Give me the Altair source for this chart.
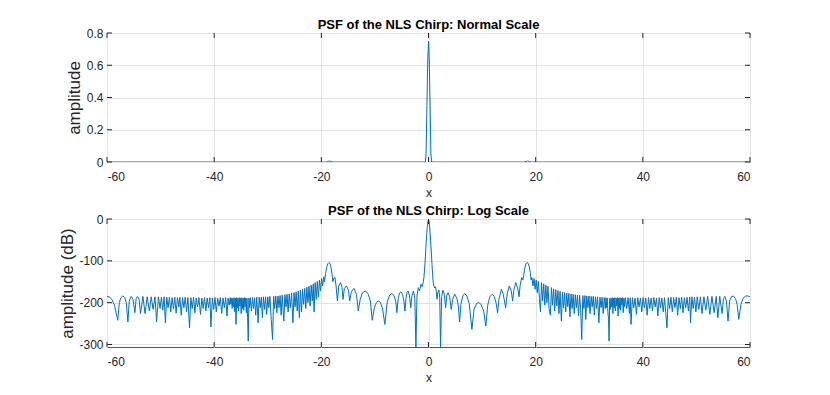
import altair as alt
import pandas as pd

# ---------------- data ----------------
x_ticks = [-60, -40, -20, 0, 20, 40, 60]
top_y_ticks = [0, 0.2, 0.4, 0.6, 0.8]
bot_y_ticks = [-300, -200, -100, 0]

top_x = [-60, -19.2, -18.8, -18.5, -18.2, -17.8, -0.6, -0.45, -0.3, -0.15, 0,
         0.15, 0.3, 0.45, 0.6, 17.8, 18.2, 18.5, 18.8, 19.2, 60]
top_amp = [0, 0, 0.003, 0.006, 0.003, 0, 0, 0.05, 0.35, 0.62, 0.75,
           0.62, 0.35, 0.05, 0, 0, 0.003, 0.006, 0.003, 0, 0]

left_db = [
    (-60, -185), (-59.6, -186), (-59.1, -192), (-58.6, -206), (-58.0, -242), (-57.7, -200), (-57.4, -188),
    (-57.05, -184), (-56.7, -188), (-56.4, -200), (-56.1, -246), (-55.85, -196), (-55.5, -185), (-55.15, -192),
    (-54.8, -224), (-54.55, -190), (-54.3, -185), (-54.0, -193), (-53.75, -226), (-53.3, -185), (-52.9, -226),
    (-52.5, -186), (-52.1, -220), (-51.75, -186), (-51.4, -216), (-51.05, -186), (-50.75, -246), (-50.4, -186),
    (-50.1, -214), (-49.85, -187), (-49.6, -218), (-49.35, -186), (-49.1, -248), (-48.85, -187), (-48.6, -212),
    (-48.35, -187), (-48.1, -222), (-47.85, -188), (-47.6, -215), (-47.35, -187), (-47.1, -225), (-46.85, -188),
    (-46.6, -210), (-46.4, -187), (-46.15, -230), (-45.9, -188), (-45.65, -212), (-45.4, -187), (-45.15, -222),
    (-44.9, -188), (-44.6, -260), (-44.35, -188), (-44.1, -214), (-43.85, -187), (-43.6, -224), (-43.35, -189),
    (-43.1, -210), (-42.85, -188), (-42.55, -228), (-42.3, -189), (-42.05, -214), (-41.8, -188), (-41.55, -220),
    (-41.3, -189), (-41.05, -212), (-40.8, -188), (-40.6, -258), (-40.35, -189), (-40.1, -216), (-39.85, -188),
    (-39.6, -222), (-39.35, -189), (-39.1, -208), (-38.85, -188), (-38.6, -226), (-38.35, -189), (-38.1, -212),
    (-37.85, -188), (-37.6, -232), (-37.4, -189), (-37.2, -206), (-37.0, -188),
    (-36.88, -204), (-36.76, -190), (-36.64, -214), (-36.52, -189), (-36.4, -210), (-36.28, -188), (-36.16, -222),
    (-36.04, -189), (-35.92, -252), (-35.8, -188), (-35.68, -212), (-35.56, -189), (-35.44, -220), (-35.32, -188),
    (-35.2, -208), (-35.08, -189), (-34.96, -226), (-34.84, -188), (-34.72, -214), (-34.6, -189), (-34.48, -218),
    (-34.36, -188), (-34.24, -210), (-34.12, -189), (-34.0, -224), (-33.88, -189), (-33.76, -236), (-33.64, -292),
    (-33.52, -189), (-33.4, -212), (-33.25, -188),
    (-33.05, -220), (-32.85, -188), (-32.65, -214), (-32.45, -188), (-32.25, -230), (-32.05, -187), (-31.8, -248),
    (-31.6, -187), (-31.4, -212), (-31.2, -187), (-31.0, -236), (-30.8, -186), (-30.6, -216), (-30.4, -186),
    (-30.2, -228), (-30.0, -186), (-29.8, -212), (-29.6, -185), (-29.35, -240), (-29.1, -288), (-28.9, -185),
    (-28.7, -214), (-28.5, -184), (-28.3, -224), (-28.1, -184), (-27.9, -212), (-27.7, -183), (-27.5, -230),
    (-27.3, -182), (-27.0, -244), (-26.8, -181), (-26.6, -210), (-26.4, -180), (-26.2, -222), (-26.0, -179),
    (-25.8, -212), (-25.55, -177), (-25.3, -248), (-25.1, -176), (-24.9, -210), (-24.7, -174), (-24.5, -220),
    (-24.3, -172), (-24.1, -236), (-23.9, -170), (-23.7, -222), (-23.5, -168), (-23.3, -204), (-23.1, -166),
    (-22.9, -214), (-22.7, -163), (-22.5, -200), (-22.3, -161), (-22.1, -208), (-21.9, -158), (-21.7, -196),
    (-21.5, -155), (-21.35, -222), (-21.15, -152), (-20.95, -192), (-20.75, -149), (-20.55, -186), (-20.35, -146),
    (-20.15, -172), (-19.95, -142), (-19.75, -160), (-19.55, -138), (-19.4, -150),
    (-19.2, -130), (-19.0, -116), (-18.8, -107), (-18.6, -104), (-18.4, -106), (-18.2, -116), (-18.0, -132),
    (-17.85, -150), (-17.65, -141), (-17.45, -140), (-17.25, -160), (-17.0, -196), (-16.75, -160), (-16.4, -152),
    (-16.15, -162), (-15.95, -192), (-15.7, -166), (-15.3, -160), (-14.95, -170), (-14.7, -196), (-14.4, -174),
    (-13.9, -166), (-13.45, -180), (-13.1, -220), (-12.75, -192), (-12.3, -176), (-11.8, -172), (-11.3, -178),
    (-10.85, -196), (-10.5, -242), (-10.1, -212), (-9.7, -199), (-9.35, -196), (-9.0, -199), (-8.6, -212),
    (-8.15, -252), (-7.7, -198), (-7.25, -182), (-6.8, -178), (-6.4, -184), (-6.1, -198), (-5.9, -224),
    (-5.65, -190), (-5.4, -177), (-5.15, -174), (-4.85, -180), (-4.6, -196), (-4.4, -220), (-4.2, -190),
    (-4.0, -176), (-3.8, -172), (-3.55, -184), (-3.3, -212), (-3.1, -184), (-2.8, -172), (-2.55, -190),
    (-2.35, -306), (-2.15, -184), (-1.9, -164), (-1.7, -172), (-1.55, -166), (-1.4, -156), (-1.2, -162),
    (-1.0, -152), (-0.85, -140), (-0.65, -105), (-0.45, -60), (-0.25, -22), (-0.1, -5), (0, -1),
]

right_db = [
    (0.1, -5), (0.25, -24), (0.45, -62), (0.65, -108), (0.85, -148), (1.0, -160), (1.15, -165), (1.3, -162),
    (1.45, -172), (1.6, -192), (1.75, -176), (1.95, -170), (2.1, -190), (2.25, -306), (2.45, -186), (2.7, -170),
    (2.95, -180), (3.2, -212), (3.4, -184), (3.65, -176), (3.95, -186), (4.25, -216), (4.5, -192), (4.9, -180),
    (5.3, -190), (5.55, -206), (5.8, -246), (6.05, -204), (6.4, -184), (6.75, -178), (7.15, -184), (7.6, -202),
    (8.1, -264), (8.5, -216), (9.0, -202), (9.4, -200), (9.8, -204), (10.3, -220), (10.7, -256), (11.05, -206),
    (11.45, -186), (11.9, -180), (12.3, -186), (12.6, -200), (12.9, -224), (13.15, -192), (13.6, -168),
    (13.95, -180), (14.4, -212), (14.7, -178), (15.1, -160), (15.45, -172), (15.7, -196), (15.95, -168),
    (16.3, -152), (16.65, -166), (16.9, -186), (17.1, -158), (17.4, -140), (17.6, -146), (17.75, -136),
    (17.95, -120), (18.15, -108), (18.4, -104), (18.6, -106), (18.8, -114), (19.0, -128), (19.15, -146),
    (19.3, -140), (19.5, -160), (19.7, -142), (19.9, -168), (20.1, -146), (20.3, -176), (20.5, -149),
    (20.7, -190), (20.9, -222), (21.1, -152), (21.3, -196), (21.5, -155), (21.7, -206), (21.9, -158),
    (22.1, -200), (22.3, -161), (22.5, -214), (22.75, -230), (22.95, -164), (23.15, -206), (23.35, -167),
    (23.55, -220), (23.75, -169), (23.95, -208), (24.15, -171), (24.35, -226), (24.55, -173), (24.8, -244),
    (25.0, -175), (25.2, -212), (25.4, -176), (25.6, -222), (25.8, -177), (26.0, -210), (26.2, -178),
    (26.4, -234), (26.6, -179), (26.8, -214), (27.0, -180), (27.2, -226), (27.4, -181), (27.6, -212),
    (27.8, -182), (28.0, -232), (28.2, -182), (28.4, -216), (28.6, -288), (28.8, -183), (29.0, -214),
    (29.2, -183), (29.35, -240), (29.55, -184), (29.75, -212), (29.95, -184), (30.15, -226), (30.35, -185),
    (30.55, -210), (30.75, -185), (30.95, -230), (31.15, -186), (31.35, -214), (31.55, -186), (31.8, -248),
    (32.0, -187), (32.2, -212), (32.4, -187), (32.6, -226), (32.8, -188), (33.0, -214),
    (33.12, -188), (33.24, -212), (33.36, -189), (33.48, -222), (33.6, -240), (33.7, -292), (33.82, -190),
    (33.94, -216), (34.06, -189), (34.18, -210), (34.3, -188), (34.42, -226), (34.54, -189), (34.66, -212),
    (34.78, -188), (34.9, -220), (35.02, -189), (35.14, -208), (35.26, -188), (35.38, -232), (35.5, -189),
    (35.62, -214), (35.74, -188), (35.86, -218), (35.98, -189), (36.1, -206), (36.22, -188), (36.34, -224),
    (36.46, -189), (36.6, -210), (36.75, -188),
    (37.0, -214), (37.25, -188), (37.5, -226), (37.65, -189), (37.8, -252), (38.05, -188), (38.3, -212),
    (38.55, -189), (38.8, -228), (39.05, -188), (39.3, -210), (39.55, -189), (39.8, -222), (40.05, -188),
    (40.3, -212), (40.55, -189), (40.8, -230), (41.05, -188), (41.3, -214), (41.55, -189), (41.8, -220),
    (42.05, -188), (42.3, -210), (42.55, -189), (42.8, -232), (43.05, -188), (43.3, -212), (43.55, -189),
    (43.8, -222), (44.05, -188), (44.5, -260), (44.75, -188), (45.0, -214), (45.25, -187), (45.5, -222),
    (45.75, -188), (46.0, -212), (46.25, -187), (46.5, -230), (46.75, -188), (47.0, -214), (47.25, -187),
    (47.5, -224), (47.75, -188), (48.0, -212), (48.25, -187), (48.5, -220), (48.75, -187), (48.9, -248),
    (49.15, -186), (49.4, -214), (49.65, -187), (49.9, -222), (50.15, -186), (50.45, -216), (50.75, -186),
    (51.05, -226), (51.4, -186), (51.75, -218), (52.1, -185), (52.5, -228), (52.9, -185), (53.3, -224),
    (53.7, -185), (54.0, -236), (54.35, -185), (54.8, -226), (55.05, -190), (55.3, -185), (55.6, -196),
    (55.9, -244), (56.2, -196), (56.5, -186), (56.9, -184), (57.3, -190), (57.6, -204), (57.9, -240),
    (58.3, -204), (58.7, -190), (59.2, -184), (59.6, -184), (60, -186),
]

# ---------------- tables ----------------
top_df = pd.DataFrame({"x": top_x, "v": top_amp})
bot_df = pd.DataFrame(left_db + right_db, columns=["x", "v"])
bot_df["order"] = range(len(bot_df))
top_df["order"] = range(len(top_df))

BLUE = "#0072BD"
AX = "#262626"
W = 643
FONT = "Liberation Sans"
TICK = 5


def panel(df, ydomain, yticks, ytitle, title, H, tpad):
    xs = alt.Scale(domain=[-60, 60], nice=False, zero=False)
    ys = alt.Scale(domain=ydomain, nice=False, zero=False)
    xa = alt.Axis(values=x_ticks, title="x", labelOverlap=False, labelExpr="'' + datum.value")
    ya = alt.Axis(values=yticks, title=ytitle, titlePadding=tpad, labelOverlap=False,
                  labelExpr="'' + datum.value")
    line = alt.Chart(df).mark_line(color=BLUE, strokeWidth=1, clip=True).encode(
        x=alt.X("x:Q", scale=xs, axis=xa),
        y=alt.Y("v:Q", scale=ys, axis=ya),
        order="order:Q",
    )
    xt = pd.DataFrame({"x": x_ticks})
    yt = pd.DataFrame({"v": yticks})
    xb = alt.Chart(xt).mark_rule(color=AX, strokeWidth=1).encode(
        x=alt.X("x:Q", scale=xs, axis=xa), y=alt.value(H), y2=alt.value(H - TICK))
    xtp = alt.Chart(xt).mark_rule(color=AX, strokeWidth=1).encode(
        x=alt.X("x:Q", scale=xs, axis=xa), y=alt.value(0), y2=alt.value(TICK))
    yl = alt.Chart(yt).mark_rule(color=AX, strokeWidth=1).encode(
        y=alt.Y("v:Q", scale=ys, axis=ya), x=alt.value(0), x2=alt.value(TICK))
    yr = alt.Chart(yt).mark_rule(color=AX, strokeWidth=1).encode(
        y=alt.Y("v:Q", scale=ys, axis=ya), x=alt.value(W - TICK), x2=alt.value(W))
    return alt.layer(line, xb, xtp, yl, yr).properties(
        width=W, height=H,
        title=alt.TitleParams(title, fontSize=13, fontWeight="bold", color="#000000",
                              font=FONT, offset=-5, anchor="middle", frame="group"),
    )


top = panel(top_df, [0, 0.8], top_y_ticks, "amplitude",
            "PSF of the NLS Chirp: Normal Scale", 129, 3)
bot = panel(bot_df, [-306, 0], bot_y_ticks, "amplitude (dB)",
            "PSF of the NLS Chirp: Log Scale", 128, 2)

chart = (
    alt.vconcat(top, bot, spacing=5)
    .properties(padding={"left": 50, "top": 10, "right": 10, "bottom": 2}, background="white")
    .configure_view(stroke="#555555", strokeWidth=1)
    .configure_axis(
        grid=True, gridColor="#e3e3e3", gridWidth=1, domain=False, ticks=False,
        labelFont=FONT, labelFontSize=12, labelColor=AX, labelPadding=5,
        titleFont=FONT, titleColor=AX, titleFontWeight="normal",
    )
    .configure_axisX(labelPadding=9, titleFontSize=12, titlePadding=5)
    .configure_axisY(titleFontSize=17, labelPadding=4)
)

chart.save("out.html", embed_options={"renderer": "svg", "actions": False})
